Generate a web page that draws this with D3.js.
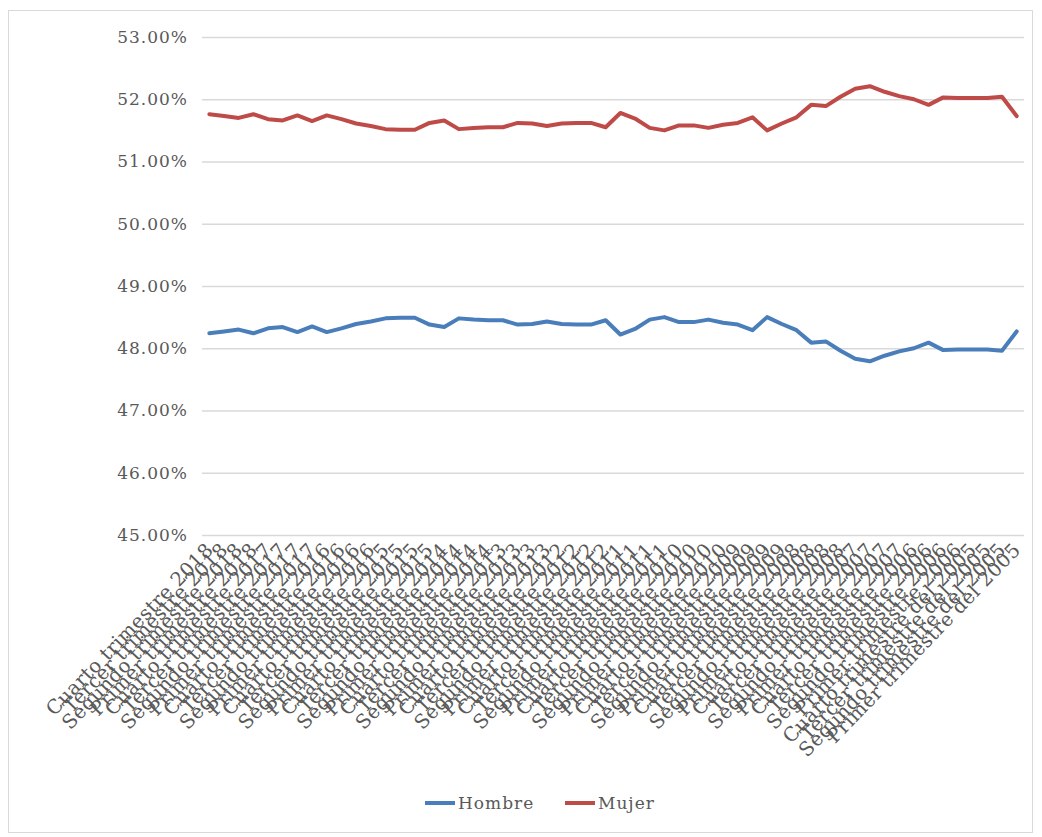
<!DOCTYPE html>
<html>
<head>
<meta charset="utf-8">
<script src="https://cdn.jsdelivr.net/npm/d3@7"></script>
<style>
  body { margin: 0; background: #fff; }
  svg { display: block; }
  .tick text { font-family: "DejaVu Serif", serif; fill: #595959; }
</style>
</head>
<body>
<div id="chart"></div>
<script>
// quarters, newest first, as in the source sheet
const categories = [
  "Cuarto trimestre 2018", "Tercer trimestre 2018", "Segundo trimestre 2018", "Primer trimestre 2018",
  "Cuarto trimestre 2017", "Tercer trimestre 2017", "Segundo trimestre 2017", "Primer trimestre 2017",
  "Cuarto trimestre 2016", "Tercer trimestre 2016", "Segundo trimestre 2016", "Primer trimestre 2016",
  "Cuarto trimestre 2015", "Tercer trimestre 2015", "Segundo trimestre 2015", "Primer trimestre 2015",
  "Cuarto trimestre 2014", "Tercer trimestre 2014", "Segundo trimestre 2014", "Primer trimestre 2014",
  "Cuarto trimestre 2013", "Tercer trimestre 2013", "Segundo trimestre 2013", "Primer trimestre 2013",
  "Cuarto trimestre 2012", "Tercer trimestre 2012", "Segundo trimestre 2012", "Primer trimestre 2012",
  "Cuarto trimestre 2011", "Tercer trimestre 2011", "Segundo trimestre 2011", "Primer trimestre 2011",
  "Cuarto trimestre 2010", "Tercer trimestre 2010", "Segundo trimestre 2010", "Primer trimestre 2010",
  "Cuarto trimestre 2009", "Tercer trimestre 2009", "Segundo trimestre 2009", "Primer trimestre 2009",
  "Cuarto trimestre 2008", "Tercer trimestre 2008", "Segundo trimestre 2008", "Primer trimestre 2008",
  "Cuarto trimestre 2007", "Tercer trimestre 2007", "Segundo trimestre 2007", "Primer trimestre 2007",
  "Cuarto trimestre 2006", "Tercer trimestre 2006", "Segundo trimestre 2006", "Primer trimestre 2006",
  "Cuarto trimestre del 2005", "Tercer trimestre del 2005", "Segundo trimestre del 2005", "Primer trimestre del 2005"
];

const hombre = [
  48.24, 48.27, 48.30, 48.24, 48.32, 48.34, 48.26, 48.35, 48.26, 48.32,
  48.39, 48.43, 48.48, 48.49, 48.49, 48.38, 48.34, 48.48, 48.46, 48.45,
  48.45, 48.38, 48.39, 48.43, 48.39, 48.38, 48.38, 48.45, 48.22, 48.31,
  48.46, 48.50, 48.42, 48.42, 48.46, 48.41, 48.38, 48.29, 48.50, 48.39,
  48.29, 48.09, 48.11, 47.96, 47.83, 47.79, 47.88, 47.95, 48.00, 48.09,
  47.97, 47.98, 47.98, 47.98, 47.96, 48.27
];

const mujer = [
  51.76, 51.73, 51.70, 51.76, 51.68, 51.66, 51.74, 51.65, 51.74, 51.68,
  51.61, 51.57, 51.52, 51.51, 51.51, 51.62, 51.66, 51.52, 51.54, 51.55,
  51.55, 51.62, 51.61, 51.57, 51.61, 51.62, 51.62, 51.55, 51.78, 51.69,
  51.54, 51.50, 51.58, 51.58, 51.54, 51.59, 51.62, 51.71, 51.50, 51.61,
  51.71, 51.91, 51.89, 52.04, 52.17, 52.21, 52.12, 52.05, 52.00, 51.91,
  52.03, 52.02, 52.02, 52.02, 52.04, 51.73
];

const yTicks = [45, 46, 47, 48, 49, 50, 51, 52, 53];

const seriesNames = ["Hombre", "Mujer"];
const seriesColors = ["#4a7ebb", "#be4b48"];

// set the dimensions and margins of the graph
var W = 1042, H = 837;
var margin = {top: 37, right: 18, bottom: 302, left: 202},
  width = W - margin.left - margin.right,
  height = H - margin.top - margin.bottom;

var svg = d3.select("#chart").append("svg")
  .attr("width", W)
  .attr("height", H);

// chart frame
svg.append("rect")
  .attr("x", 8.5).attr("y", 10.5)
  .attr("width", 1024).attr("height", 822)
  .attr("fill", "#fff")
  .attr("stroke", "#d9d9d9");

var g = svg.append("g")
  .attr("transform", "translate(" + margin.left + "," + margin.top + ")");

// set the ranges
var x = d3.scaleBand()
  .domain(categories)
  .range([0, width]);
var y = d3.scaleLinear()
  .domain([45, 53])
  .range([height, 0]);

// gridlines
g.append("g")
  .call(d3.axisLeft(y).tickValues(yTicks).tickSize(-width).tickFormat(""))
  .call(s => s.select(".domain").remove())
  .selectAll("line")
    .attr("stroke", "#d9d9d9")
    .attr("stroke-width", 1.3);

// y axis labels
g.append("g")
  .call(d3.axisLeft(y).tickValues(yTicks).tickSize(0).tickPadding(14)
    .tickFormat(d => d.toFixed(2) + "%"))
  .call(s => s.select(".domain").remove())
  .selectAll("text")
    .style("font-size", "17px")
    .style("letter-spacing", "1px");

// x axis labels, rotated like excel does
g.append("g")
  .attr("transform", "translate(0," + height + ")")
  .call(d3.axisBottom(x).tickSize(0))
  .call(s => s.select(".domain").remove())
  .selectAll("text")
    .style("font-size", "19.5px")
    .style("letter-spacing", "0.4px")
    .style("text-anchor", "end")
    .attr("x", 0)
    .attr("y", 0)
    .attr("dy", "0")
    .attr("transform", "translate(5,16) rotate(-46)");

// lines
var line = d3.line()
  .x((d, i) => x(categories[i]) + x.bandwidth() / 2)
  .y(d => y(d));

[hombre, mujer].forEach((vals, k) => {
  g.append("path")
    .datum(vals)
    .attr("fill", "none")
    .attr("stroke", seriesColors[k])
    .attr("stroke-width", 4)
    .attr("stroke-linejoin", "round")
    .attr("stroke-linecap", "round")
    .attr("d", line);
});

// legend
var legend = svg.append("g")
  .attr("transform", "translate(425,803)");
var lx = 0;
seriesNames.forEach((name, k) => {
  var item = legend.append("g").attr("transform", "translate(" + lx + ",0)");
  item.append("line")
    .attr("x1", 0).attr("x2", 30)
    .attr("y1", 0).attr("y2", 0)
    .attr("stroke", seriesColors[k])
    .attr("stroke-width", 4);
  item.append("text")
    .attr("x", 33).attr("y", 6)
    .style("font-family", "DejaVu Serif, serif")
    .style("font-size", "17px")
    .style("letter-spacing", "1px")
    .style("fill", "#595959")
    .text(name);
  lx += 140;
});
</script>
</body>
</html>
